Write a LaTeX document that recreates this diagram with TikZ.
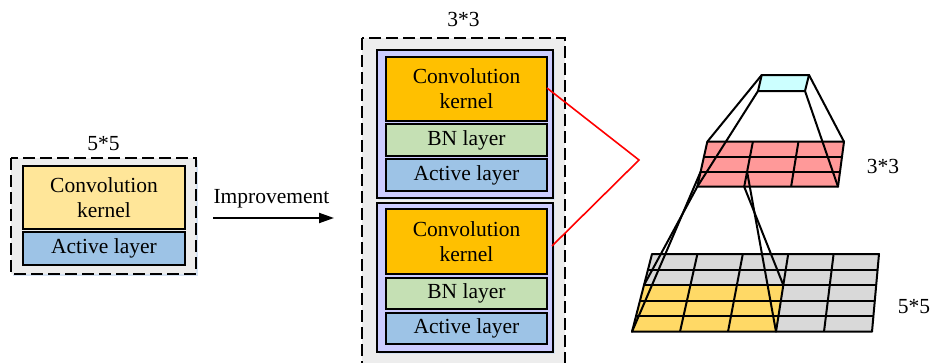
\documentclass[tikz,border=0pt]{standalone}
\usepackage{fontspec}
\setmainfont{Liberation Serif}
\usetikzlibrary{calc,arrows.meta}

\definecolor{panelgray}{HTML}{EDEDED}
\definecolor{panelshade}{HTML}{D6E3F3}
\definecolor{paleyellow}{HTML}{FFE699}
\definecolor{skyblue}{HTML}{9DC3E6}
\definecolor{kernelorange}{HTML}{FFC000}
\definecolor{bngreen}{HTML}{C5E0B4}
\definecolor{lavender}{HTML}{CCCCFF}
\definecolor{mappink}{HTML}{FF9999}
\definecolor{outcyan}{HTML}{CCFFFF}
\definecolor{cellyellow}{HTML}{FFD966}
\definecolor{cellgray}{HTML}{D9D9D9}

\tikzset{
  txt/.style={font=\fontsize{21.5}{25}\selectfont, inner sep=0pt},
  panel/.style={draw=black, line width=2pt, dash pattern=on 12pt off 5pt, fill=panelgray},
  layerbox/.style={draw=black, line width=2pt, inner sep=0pt, align=center,
    font=\fontsize{21.5}{25}\selectfont},
  blockbox/.style={draw=black, line width=2pt, fill=lavender, inner sep=0pt},
  gridline/.style={line width=2pt, line join=round},
  ray/.style={line width=2pt, line cap=round},
  redray/.style={draw=red, line width=1.6pt},
}

\begin{document}
\begin{tikzpicture}[x=1pt, y=-1pt]
\useasboundingbox (0,0) rectangle (931,362);
\clip (0,0) rectangle (931,362);

% ---------- original block: 5*5 kernel ----------
\fill[panelshade] (13,160) rectangle (198,276);
\draw[panel] (11,158) rectangle (196,274);
\node[txt, anchor=base] (lbl55a) at (103.5,150.5) {5*5};
\node[layerbox, fill=paleyellow, minimum width=162pt, minimum height=63pt]
  (ckA) at (104,197.5) {Convolution\\kernel};
\node[layerbox, fill=skyblue, minimum width=162pt, minimum height=33pt]
  (actA) at (104,248.5) {Active layer};

% ---------- improvement arrow ----------
\coordinate (arrS) at (213,218);
\coordinate (arrE) at (334,218);
\draw[line width=2pt, -{Triangle[length=15pt,width=10pt]}] (arrS) -- (arrE);
\node[txt, anchor=base] (impr) at (271.5,203) {Improvement};

% ---------- improved block: two stacked 3*3 kernels ----------
\draw[panel] (362,38) rectangle (565,380);
\node[txt, anchor=base] (lbl33a) at (463.5,26.5) {3*3};

% upper unit
\fill[panelshade] (379,52) rectangle (555,200);
\node[blockbox, minimum width=176pt, minimum height=148pt] (unitA) at (465,124) {};
\node[layerbox, fill=kernelorange, minimum width=161pt, minimum height=64pt]
  (ckB) at (466.5,89) {Convolution\\kernel};
\node[layerbox, fill=bngreen, minimum width=161pt, minimum height=32pt]
  (bnB) at (466.5,140) {BN layer};
\node[layerbox, fill=skyblue, minimum width=161pt, minimum height=32pt]
  (actB) at (466.5,175) {Active layer};

% lower unit
\fill[panelshade] (379,205) rectangle (555,354);
\node[blockbox, minimum width=176pt, minimum height=149pt] (unitC) at (465,277.5) {};
\node[layerbox, fill=kernelorange, minimum width=161pt, minimum height=65pt]
  (ckC) at (466.5,241.5) {Convolution\\kernel};
\node[layerbox, fill=bngreen, minimum width=161pt, minimum height=31pt]
  (bnC) at (466.5,293.5) {BN layer};
\node[layerbox, fill=skyblue, minimum width=161pt, minimum height=31pt]
  (actC) at (466.5,328.5) {Active layer};

% red links from both kernels to the receptive-field view
\coordinate (redA) at (547,88);
\coordinate (redV) at (639,160);
\coordinate (redC) at (552,246);
\draw[redray] (redA) -- (redV) -- (redC);

% ---------- receptive field view ----------
% corner points
\coordinate (c-tl) at (761.7,75);   \coordinate (c-tr) at (809,75);
\coordinate (c-br) at (805,91);     \coordinate (c-bl) at (758,91);
\coordinate (p-tl) at (707.3,141.7); \coordinate (p-tr) at (844,141.7);
\coordinate (p-br) at (838,186.7);   \coordinate (p-bl) at (697.3,186.7);
\coordinate (g-tl) at (652,254);     \coordinate (g-tr) at (879,254);
\coordinate (g-br) at (872,331.7);   \coordinate (g-bl) at (632,331.7);

% 5*5 input map with the 3*3 region in yellow
\fill[cellgray] (g-tl) -- (g-tr) -- (g-br) -- (g-bl) -- cycle;
\coordinate (y-tl) at ($(g-tl)!0.4!(g-bl)$);
\coordinate (y-tr) at ($($(g-tl)!0.6!(g-tr)$)!0.4!($(g-bl)!0.6!(g-br)$)$);
\coordinate (y-br) at ($(g-bl)!0.6!(g-br)$);
\coordinate (y-bl) at (g-bl);
\fill[cellyellow] (y-tl) -- (y-tr) -- (y-br) -- (y-bl) -- cycle;
\foreach \k in {1,...,4} {
  \draw[gridline] ($(g-tl)!{\k/5}!(g-bl)$) -- ($(g-tr)!{\k/5}!(g-br)$);
  \draw[gridline] ($(g-tl)!{\k/5}!(g-tr)$) -- ($(g-bl)!{\k/5}!(g-br)$);
}
\draw[gridline] (g-tl) -- (g-tr) -- (g-br) -- (g-bl) -- cycle;
\node[txt, anchor=base] (lbl55b) at (914,313) {5*5};

% 3*3 intermediate map
\fill[mappink] (p-tl) -- (p-tr) -- (p-br) -- (p-bl) -- cycle;
\foreach \k in {1,2} {
  \draw[gridline] ($(p-tl)!{\k/3}!(p-bl)$) -- ($(p-tr)!{\k/3}!(p-br)$);
  \draw[gridline] ($(p-tl)!{\k/3}!(p-tr)$) -- ($(p-bl)!{\k/3}!(p-br)$);
}
\draw[gridline] (p-tl) -- (p-tr) -- (p-br) -- (p-bl) -- cycle;
\node[txt, anchor=base] (lbl33b) at (883,173) {3*3};

% single output cell
\draw[gridline, fill=outcyan] (c-tl) -- (c-tr) -- (c-br) -- (c-bl) -- cycle;

% projection from the output cell to the 3*3 map
\draw[ray] (c-tl) -- (p-tl);
\draw[ray] (c-tr) -- (p-tr);
\draw[ray] (c-bl) -- (p-bl);
\draw[ray] (c-br) -- (p-br);

% projection from one cell of the 3*3 map to the 5*5 map
\coordinate (q-tl) at ($(p-tl)!{2/3}!(p-bl)$);
\coordinate (q-tr) at ($($(p-tl)!{1/3}!(p-tr)$)!{2/3}!($(p-bl)!{1/3}!(p-br)$)$);
\coordinate (q-bl) at (p-bl);
\coordinate (q-br) at ($(p-bl)!{1/3}!(p-br)$);
\draw[ray] (q-tl) -- (y-bl);
\draw[ray] (q-bl) -- (y-tl);
\draw[ray] (q-tr) -- (y-br);
\draw[ray] (q-br) -- (y-tr);
\end{tikzpicture}
\end{document}
